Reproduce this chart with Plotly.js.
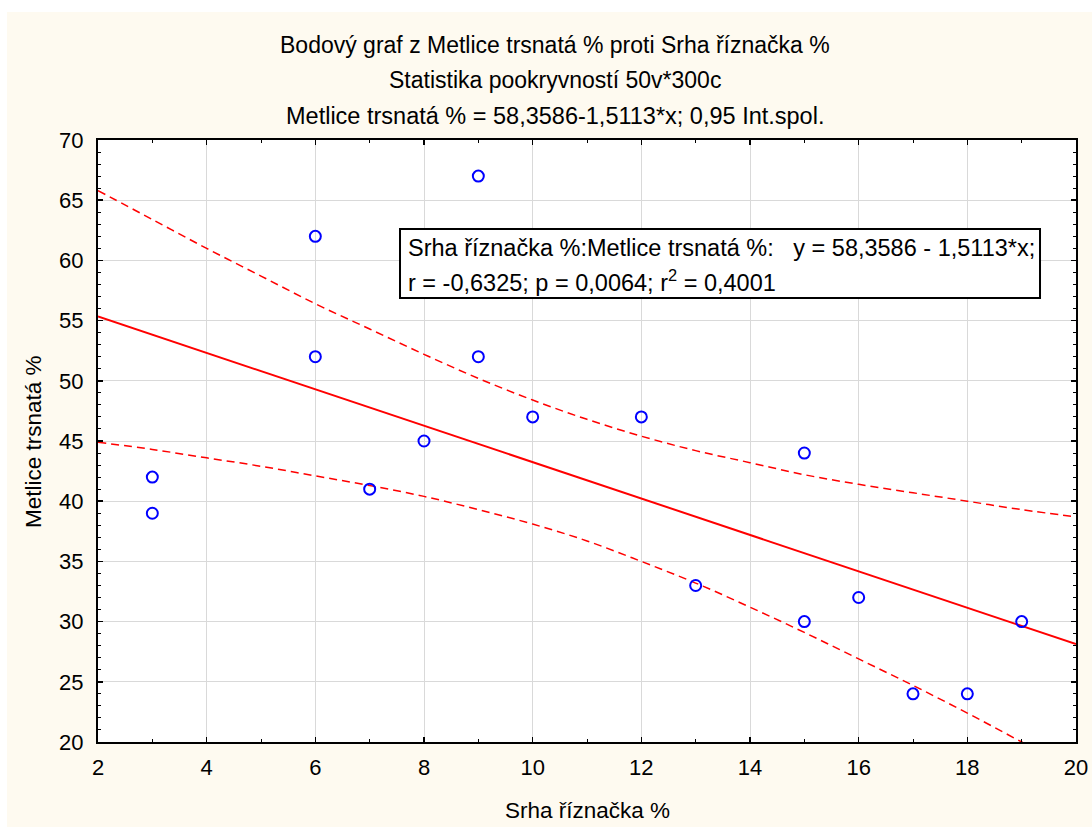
<!DOCTYPE html>
<html>
<head>
<meta charset="utf-8">
<script src="https://cdn.plot.ly/plotly-3.0.1.min.js"></script>
<style>
html,body{margin:0;padding:0;background:#ffffff;}
#chart{position:absolute;left:7px;top:12px;width:1085px;height:815px;}
</style>
</head>
<body>
<div id="chart"></div>
<script>
// Observed points
var srhaX = [3, 3, 6, 6, 7, 8, 9, 9, 10, 12, 13, 15, 15, 16, 17, 18, 19];
var metliceY = [42, 39, 62, 52, 41, 45, 67, 52, 47, 47, 33, 44, 30, 32, 24, 24, 30];

// Regression line endpoints
var fitX = [2, 20];
var fitY = [55.34, 28.13];

// 0.95 confidence band
var bandX = [2, 3, 4, 5, 6, 7, 8, 9, 10, 11, 12, 13, 14, 15, 16, 17, 18, 19, 20];
var bandUpper = [65.8, 63.4, 61.0, 58.7, 56.4, 54.3, 52.2, 50.2, 48.4, 46.8, 45.4, 44.2, 43.2, 42.2, 41.4, 40.7, 40.0, 39.3, 38.7];
var bandLower = [44.9, 44.3, 43.6, 42.9, 42.1, 41.3, 40.4, 39.3, 38.1, 36.7, 35.0, 33.2, 31.2, 29.1, 26.9, 24.7, 22.4, 20.0, 17.6];

var titleLines = [
  "Bodový graf z Metlice trsnatá % proti Srha říznačka %",
  "Statistika pookryvností 50v*300c",
  "Metlice trsnatá % = 58,3586-1,5113*x; 0,95 Int.spol."
];
var xTitle = "Srha říznačka %";
var yTitle = "Metlice trsnatá %";
var statLine1 = "Srha říznačka %:Metlice trsnatá %:\u00a0\u00a0\u00a0y = 58,3586 - 1,5113*x;";
var statLine2 = "r = -0,6325; p = 0,0064; r<sup>2</sup> = 0,4001";

var FONT = "Liberation Sans, Arial, sans-serif";
var red = "#ff0000";

var traces = [
  {x: bandX, y: bandUpper, type: "scatter", mode: "lines", line: {color: red, width: 1.5, dash: "8px,5px", shape: "spline"}, hoverinfo: "skip"},
  {x: bandX, y: bandLower, type: "scatter", mode: "lines", line: {color: red, width: 1.5, dash: "8px,5px", shape: "spline"}, hoverinfo: "skip"},
  {x: fitX, y: fitY, type: "scatter", mode: "lines", line: {color: red, width: 2}},
  {x: srhaX, y: metliceY, type: "scatter", mode: "markers",
   marker: {symbol: "circle-open", size: 11, color: "#0000ff", line: {width: 2, color: "#0000ff"}}}
];

var axisCommon = {
  showline: true, linecolor: "#000000", linewidth: 2, mirror: "ticks",
  ticks: "inside", ticklen: 5, tickwidth: 1.5, tickcolor: "#000000",
  showgrid: true, gridcolor: "#d9d9d9", gridwidth: 1,
  zeroline: false,
  tickfont: {family: FONT, size: 22, color: "#000000"},
  minor: {dtick: 1, ticks: "inside", ticklen: 3, tickwidth: 1, tickcolor: "#000000", showgrid: false},
  fixedrange: true
};

var layout = {
  width: 1085, height: 815,
  margin: {l: 91, r: 16, t: 128, b: 85},
  paper_bgcolor: "#fefaf0",
  plot_bgcolor: "#ffffff",
  showlegend: false,
  xaxis: Object.assign({}, axisCommon, {range: [2, 20], dtick: 2, tick0: 0, ticklabelstandoff: 5}),
  yaxis: Object.assign({}, axisCommon, {range: [20, 70], dtick: 5, tick0: 0, ticklabelstandoff: 8}),
  shapes: [
    {type: "rect", xref: "paper", yref: "paper", x0: 0.3088, x1: 0.9632, y0: 0.7375, y1: 0.8522,
     line: {color: "#000000", width: 2}, fillcolor: "#ffffff", layer: "above"}
  ],
  annotations: [
    {text: titleLines[0], xref: "paper", yref: "paper", x: 0.4673, y: 1.1578, xanchor: "center", yanchor: "middle", showarrow: false, font: {family: FONT, size: 23, color: "#000"}},
    {text: titleLines[1], xref: "paper", yref: "paper", x: 0.4673, y: 1.0997, xanchor: "center", yanchor: "middle", showarrow: false, font: {family: FONT, size: 23, color: "#000"}},
    {text: titleLines[2], xref: "paper", yref: "paper", x: 0.4673, y: 1.0399, xanchor: "center", yanchor: "middle", showarrow: false, font: {family: FONT, size: 23.5, color: "#000"}},
    {text: xTitle, xref: "paper", yref: "paper", x: 0.5, y: -0.113, xanchor: "center", yanchor: "middle", showarrow: false, font: {family: FONT, size: 22.5, color: "#000"}},
    {text: yTitle, xref: "paper", yref: "paper", x: -0.0665, y: 0.5, xanchor: "center", yanchor: "middle", textangle: -90, showarrow: false, font: {family: FONT, size: 22.5, color: "#000"}},
    {text: statLine1, xref: "paper", yref: "paper", x: 0.3149, y: 0.8206, xanchor: "left", yanchor: "middle", showarrow: false, font: {family: FONT, size: 23.5, color: "#000"}},
    {text: statLine2, xref: "paper", yref: "paper", x: 0.3149, y: 0.7658, xanchor: "left", yanchor: "middle", showarrow: false, font: {family: FONT, size: 23.5, color: "#000"}}
  ]
};

Plotly.newPlot("chart", traces, layout, {displayModeBar: false, staticPlot: true});
</script>
</body>
</html>
